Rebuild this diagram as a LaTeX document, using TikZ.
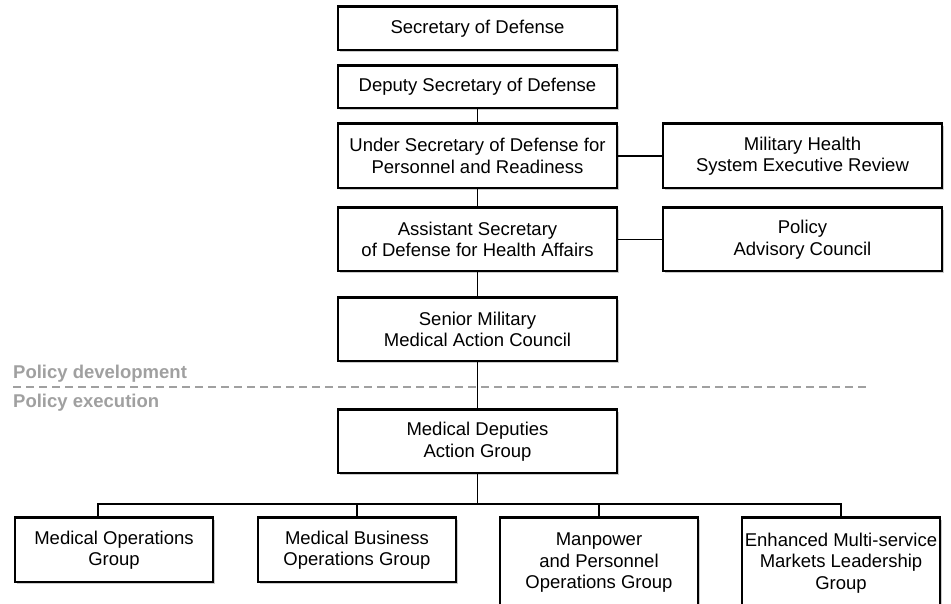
\documentclass[tikz,border=0pt]{standalone}
\usepackage{fontspec}
\setmainfont{Liberation Sans}
\usetikzlibrary{positioning,shadows,calc}

\definecolor{divgray}{RGB}{160,160,160}

\tikzset{
    orgbox/.style={draw, fill=white, line width=1.5pt, align=center, inner sep=0pt,
        minimum width=279pt, minimum height=63pt, font=\fontsize{18.5}{21.5}\selectfont,
        drop shadow={shadow xshift=2pt, shadow yshift=-2pt, fill=black!45, opacity=.45}},
    groupbox/.style={orgbox, minimum width=198pt},
    link/.style={line width=1.5pt},
    divider/.style={divgray, dashed, dash pattern=on 8pt off 5pt, line width=1.4pt},
    phase/.style={divgray, inner sep=0pt, font=\fontsize{18.5}{21}\selectfont\bfseries}
}

\begin{document}
\begin{tikzpicture}[x=1pt,y=-1pt]
        \useasboundingbox (0,0) rectangle (951,603);

        % Chain of command
        \node[orgbox, minimum height=43pt] (sec) at (477.5,28.5) {Secretary of Defense};
        \node[orgbox, minimum height=42pt] (dep) at (477.5,87) {Deputy Secretary of Defense};
        \node[orgbox, minimum height=64pt] (usd) at (477.5,156) {Under Secretary of Defense for\\Personnel and Readiness};
        \node[orgbox] (asd) at (477.5,239.5) {Assistant Secretary\\of Defense for Health Affairs};
        \node[orgbox] (smmac) at (477.5,329.5) {Senior Military\\Medical Action Council};
        \node[orgbox] (mdag) at (477.5,441.5) {Medical Deputies\\Action Group};

        % Side boards
        \node[orgbox, minimum height=64pt] (mhs) at (802.5,156) {Military Health\\System Executive Review};
        \node[orgbox] (pac) at (802.5,239.5) {Policy\\Advisory Council};

        % Groups
        \node[groupbox, minimum height=64pt] (mog) at (114,550) {Medical Operations\\Group};
        \node[groupbox, minimum height=64pt] (mbog) at (357,550) {Medical Business\\Operations Group};
        \node[groupbox, minimum height=90pt] (mpog) at (599,563) {Manpower\\and Personnel\\Operations Group};
        \node[groupbox, minimum height=90pt] (emsml) at (841,563) {Enhanced Multi-service\\Markets Leadership\\Group};

        % Heavier top edges
        \foreach \n in {sec,dep,usd,asd,smmac,mdag,mhs,pac,mog,mbog,mpog,emsml}
            \draw[line width=3pt] (\n.north west) -- (\n.north east);

        % Connectors
        \draw[link] (dep) -- (usd);
        \draw[link] (usd) -- (asd);
        \draw[link] (asd) -- (smmac);
        \draw[link] (smmac) -- (mdag);
        \draw[link] (usd) -- (mhs);
        \draw[link] (asd) -- (pac);

        \coordinate (bus) at (477.5,504);
        \coordinate (busL) at (98,504);
        \draw[link] (mdag) -- (bus);
        \draw[link] (busL |- mog.north) -- (busL) -| (emsml);
        \draw[link] (mbog) |- (bus);
        \draw[link] (mpog) |- (bus);

        % Development / execution split
        \coordinate (dashL) at (13,387);
        \coordinate (dashR) at (870,387);
        \draw[divider] (dashL) -- (dashR);
        \node[phase, anchor=base west] (dev) at (13,378) {Policy development};
        \node[phase, anchor=base west] (exe) at (13,407) {Policy execution};

    \end{tikzpicture}
\end{document}
